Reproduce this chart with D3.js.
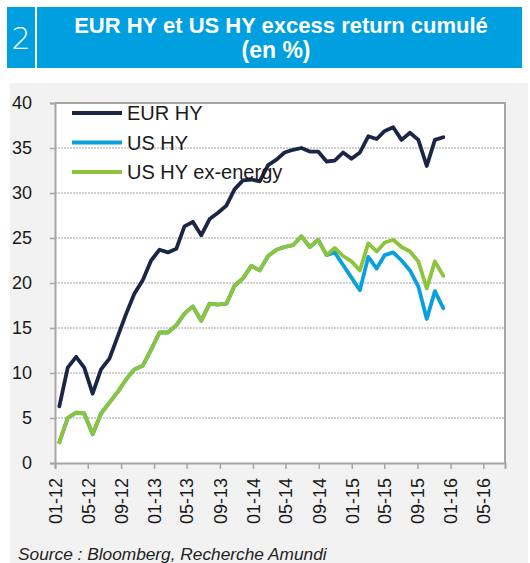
<!DOCTYPE html>
<html>
<head>
<meta charset="utf-8">
<script src="https://cdn.jsdelivr.net/npm/d3@7"></script>
<style>
  body { margin: 0; background: #fff; }
  svg { display: block; font-family: 'Liberation Sans', Arial, sans-serif; }
</style>
</head>
<body>
<svg id="chart" width="530" height="563"></svg>
<script>
// Cumulated excess return (%), one value per observation
var eurHY = [6.3, 10.6, 11.8, 10.6, 7.7, 10.4, 11.6, 14.1, 16.6, 18.8, 20.3, 22.5,
  23.7, 23.4, 23.8, 26.3, 26.8, 25.3, 27.1, 27.8, 28.6, 30.4, 31.4, 31.5,
  31.3, 33.1, 33.7, 34.5, 34.8, 35.0, 34.6, 34.6, 33.5, 33.6, 34.5, 33.8,
  34.5, 36.3, 36.0, 36.9, 37.3, 35.9, 36.7, 35.9, 33.0, 35.9, 36.2];
var usHY = [2.3, 5.0, 5.6, 5.5, 3.2, 5.5, 6.7, 7.9, 9.3, 10.4, 10.8, 12.6,
  14.5, 14.5, 15.3, 16.6, 17.4, 15.8, 17.7, 17.6, 17.7, 19.7, 20.5, 21.9,
  21.4, 23.0, 23.7, 24.0, 24.2, 25.2, 24.0, 24.8, 23.1, 23.4, 22.0, 20.6,
  19.2, 22.9, 21.6, 23.1, 23.4, 22.5, 21.4, 19.6, 16.0, 19.1, 17.2];
var usHYexEnergy = [2.3, 5.0, 5.6, 5.5, 3.2, 5.5, 6.7, 7.9, 9.3, 10.4, 10.8, 12.6,
  14.5, 14.5, 15.3, 16.6, 17.4, 15.8, 17.7, 17.6, 17.7, 19.7, 20.5, 21.9,
  21.4, 23.0, 23.7, 24.0, 24.2, 25.2, 24.0, 24.8, 23.1, 23.9, 23.0, 22.4,
  21.4, 24.4, 23.5, 24.5, 24.8, 24.0, 23.5, 22.4, 19.4, 22.4, 20.8];

var seriesNames = ['EUR HY', 'US HY', 'US HY ex-energy'];
var seriesColors = ['#1b2546', '#0aa0de', '#8cc43c'];
var yTicks = [0, 5, 10, 15, 20, 25, 30, 35, 40];
var xTickLabels = ['01-12', '05-12', '09-12', '01-13', '05-13', '09-13', '01-14',
  '05-14', '09-14', '01-15', '05-15', '09-15', '01-16', '05-16'];

// observations come roughly every 30.8 days from mid-january 2012
var firstObs = new Date(2012, 0, 17);
var obsDates = eurHY.map(function(d, i) {
  return d3.timeDay.offset(firstObs, Math.round(i * 30.83));
});

var svg = d3.select('#chart');
var margin = { top: 103, right: 25, bottom: 100, left: 55 };
var width = +svg.attr('width') - margin.left - margin.right;
var height = +svg.attr('height') - margin.top - margin.bottom;

// header
svg.append('rect').attr('x', 7).attr('y', 7).attr('width', 515).attr('height', 61).attr('fill', '#009fe0');
svg.append('rect').attr('x', 35).attr('y', 7).attr('width', 2).attr('height', 61).attr('fill', '#fff');
svg.append('text').attr('x', 21).attr('y', 49).attr('text-anchor', 'middle')
  .attr('fill', '#fff')
  .style('font-family', "'DejaVu Sans', sans-serif")
  .style('font-weight', '200')
  .style('font-size', '30px').text('2');
svg.append('text').attr('x', 281).attr('y', 33).attr('text-anchor', 'middle')
  .attr('fill', '#fff').style('font-size', '22px').style('font-weight', 'bold')
  .text('EUR HY et US HY excess return cumulé');
svg.append('text').attr('x', 276).attr('y', 58).attr('text-anchor', 'middle')
  .attr('fill', '#fff').style('font-size', '23px').style('font-weight', 'bold')
  .text('(en %)');

// grey panel
svg.append('rect').attr('x', 10).attr('y', 83).attr('width', 518).attr('height', 480).attr('fill', '#f2f2f2');

var parseTick = d3.timeParse('%m-%y');
var x = d3.scaleTime()
  .domain([new Date(2012, 0, 1), new Date(2016, 6, 20)])
  .range([0, width]);
var y = d3.scaleLinear().domain([0, 40]).range([height, 0]);

var g = svg.append('g').attr('transform', 'translate(' + margin.left + ',' + margin.top + ')');

g.append('rect').attr('width', width).attr('height', height).attr('fill', '#fff');

// gridlines
g.append('g')
  .selectAll('line')
  .data(yTicks.filter(function(d) { return d > 0 && d < 40; }))
  .join('line')
  .attr('x1', 0).attr('x2', width)
  .attr('y1', function(d) { return y(d); })
  .attr('y2', function(d) { return y(d); })
  .attr('stroke', '#a3a3a3')
  .attr('stroke-width', 1)
  .attr('stroke-dasharray', '2,1');

// frame top / right
g.append('path')
  .attr('d', 'M0,' + y(40) + 'H' + width + 'V' + height)
  .attr('fill', 'none')
  .attr('stroke', '#a6a6a6')
  .attr('stroke-width', 2);

// Setting the Axis
var yAxis = g.append('g')
  .call(d3.axisLeft(y).tickValues(yTicks).tickSize(5).tickPadding(18));
yAxis.selectAll('text').style('font-size', '18px').attr('fill', '#1a1a1a')
  .attr('font-family', null);
yAxis.selectAll('line').attr('stroke', '#a6a6a6').attr('stroke-width', 1.5);
yAxis.select('.domain').attr('stroke', '#a6a6a6').attr('stroke-width', 2);

var xAxis = g.append('g')
  .attr('transform', 'translate(0,' + height + ')')
  .call(d3.axisBottom(x)
    .tickValues(xTickLabels.map(parseTick))
    .tickFormat(d3.timeFormat('%m-%y'))
    .tickSize(6));
xAxis.selectAll('line').attr('stroke', '#a6a6a6').attr('stroke-width', 1.5);
xAxis.select('.domain').attr('stroke', '#a6a6a6').attr('stroke-width', 2);
xAxis.selectAll('text')
  .style('font-size', '18px')
  .attr('fill', '#1a1a1a')
  .attr('text-anchor', 'end')
  .attr('transform', 'translate(0,15) rotate(-90)')
  .attr('x', 0).attr('y', 0).attr('dy', '0.35em');

// lines (US HY first so ex-energy sits on top where they overlap)
var line = d3.line()
  .x(function(d) { return x(d.date); })
  .y(function(d) { return y(d.value); });

function toPoints(values) {
  return values.map(function(v, i) { return { date: obsDates[i], value: v }; });
}

[[usHY, 1], [usHYexEnergy, 2], [eurHY, 0]].forEach(function(s) {
  g.append('path')
    .datum(toPoints(s[0]))
    .attr('d', line)
    .attr('fill', 'none')
    .attr('stroke', seriesColors[s[1]])
    .attr('stroke-width', 3.8)
    .attr('stroke-linejoin', 'round')
    .attr('stroke-linecap', 'round');
});

// legend
var legend = svg.append('g').attr('transform', 'translate(72,113)');
var item = legend.selectAll('g')
  .data(seriesNames)
  .join('g')
  .attr('transform', function(d, i) { return 'translate(0,' + (i * 29.5) + ')'; });
item.append('line')
  .attr('x1', 0).attr('x2', 50)
  .attr('stroke', function(d, i) { return seriesColors[i]; })
  .attr('stroke-width', 4);
item.append('text')
  .attr('x', 55).attr('dy', '0.35em')
  .style('font-size', '20px')
  .attr('fill', '#1a1a1a')
  .text(function(d) { return d; });

// source
svg.append('text').attr('x', 18).attr('y', 560)
  .style('font-size', '17.3px').style('font-style', 'italic')
  .attr('fill', '#222')
  .text('Source : Bloomberg, Recherche Amundi');
</script>
</body>
</html>
